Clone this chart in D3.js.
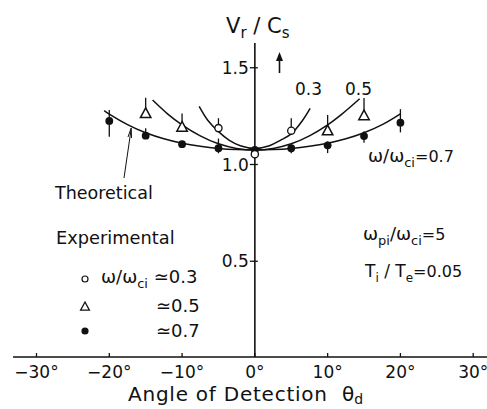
<!DOCTYPE html>
<html>
<head>
<meta charset="utf-8">
<script src="https://cdn.jsdelivr.net/npm/d3@7"></script>
<style>
  html, body { margin: 0; padding: 0; background: #fff; }
  svg text { font-family: "DejaVu Sans", sans-serif; fill: #111; }
</style>
</head>
<body>
<svg id="chart" width="487" height="409"></svg>
<script>
// ---- data ----
const xTicks = [-30, -20, -10, 0, 10, 20, 30];
const xTickLabels = ["\u221230\u00b0", "\u221220\u00b0", "\u221210\u00b0", "0\u00b0", "10\u00b0", "20\u00b0", "30\u00b0"];
const yTicks = [0.5, 1.0, 1.5];
const yTickLabels = ["0.5", "1.0", "1.5"];

// experimental, omega/omega_ci ~ 0.7 (filled circles)
const angles07 = [-20, -15, -10, -5, 0, 5, 10, 15, 20];
const vals07 = [1.225, 1.149, 1.105, 1.084, 1.075, 1.084, 1.099, 1.147, 1.216];
const errUp07 = [0.057, 0.038, 0, 0.05, 0, 0.02, 0.02, 0.025, 0.07];
const errDown07 = [0.081, 0.013, 0, 0.026, 0, 0.026, 0.04, 0.035, 0.05];

// experimental, ~ 0.5 (open triangles)
const angles05 = [-15, -10, 10, 15];
const vals05 = [1.262, 1.192, 1.173, 1.251];
const errUp05 = [0.083, 0.072, 0.083, 0.093];
const errDown05 = [0, 0, 0, 0.02];

// experimental, ~ 0.3 (open circles)
const angles03 = [-5, 0, 5];
const vals03 = [1.188, 1.053, 1.175];
const errUp03 = [0.051, 0, 0.064];

// theoretical curves
const thAngles07 = [-20.7, -20, -17.5, -15, -12.5, -10, -7.5, -5, -2.5, 0, 2.5, 5, 7.5, 10, 12.5, 15, 17.5, 20];
const thVals07 = [1.278, 1.26, 1.206, 1.164, 1.133, 1.11, 1.094, 1.083, 1.077, 1.075, 1.077, 1.083, 1.094, 1.11, 1.133, 1.164, 1.206, 1.262];
const thAngles05 = [-14.05, -12, -10, -7.5, -5, -2.5, 0, 2.5, 5, 7.5, 10, 12, 14.4];
const thVals05 = [1.333, 1.262, 1.205, 1.148, 1.107, 1.083, 1.075, 1.083, 1.107, 1.148, 1.205, 1.262, 1.340];
const thAngles03 = [-7.65, -6.5, -5, -3.5, -2, 0, 2, 3.5, 5, 6.5, 7.6];
const thVals03 = [1.300, 1.230, 1.170, 1.125, 1.097, 1.083, 1.097, 1.125, 1.158, 1.225, 1.290];

// ---- drawing ----
const svg = d3.select("#chart");
const x = d3.scaleLinear().domain([-30, 30]).range([36.5, 473.2]);
const y = d3.scaleLinear().domain([0, 1.5]).range([358, 67.75]);
const ink = "#111";

// x axis line
svg.append("line").attr("x1", 13).attr("x2", 487).attr("y1", y(0) - 1).attr("y2", y(0) - 1)
  .attr("stroke", ink).attr("stroke-width", 1.6);
// x ticks (upward)
svg.append("g").selectAll("line").data(xTicks).join("line")
  .attr("x1", d => x(d)).attr("x2", d => x(d))
  .attr("y1", y(0) - 1).attr("y2", y(0) - 5)
  .attr("stroke", ink).attr("stroke-width", 1.3);
svg.append("g").selectAll("text").data(xTicks).join("text")
  .attr("x", d => x(d)).attr("y", 378)
  .attr("text-anchor", "middle").attr("font-size", 17)
  .text((d, i) => xTickLabels[i]);

// y axis line
svg.append("line").attr("x1", x(0)).attr("x2", x(0)).attr("y1", 43).attr("y2", y(0) - 1)
  .attr("stroke", ink).attr("stroke-width", 1.6);
svg.append("g").selectAll("line").data(yTicks).join("line")
  .attr("x1", x(0) - 5).attr("x2", x(0) + 3)
  .attr("y1", d => y(d)).attr("y2", d => y(d))
  .attr("stroke", ink).attr("stroke-width", 1.3);
svg.append("g").selectAll("text").data(yTicks).join("text")
  .attr("x", x(0) - 6).attr("y", d => y(d) + 6)
  .attr("text-anchor", "end").attr("font-size", 17)
  .text((d, i) => yTickLabels[i]);

// y axis title V_r / C_s
const yt = svg.append("text").attr("x", 226).attr("y", 33).attr("font-size", 21);
yt.append("tspan").text("V");
yt.append("tspan").attr("dy", 5).attr("font-size", 15).text("r");
yt.append("tspan").attr("dy", -5).text(" / C");
yt.append("tspan").attr("dy", 5).attr("font-size", 15).text("s");

// upward arrow
svg.append("line").attr("x1", 279.5).attr("x2", 279.5).attr("y1", 73).attr("y2", 58)
  .attr("stroke", ink).attr("stroke-width", 1.6);
svg.append("path").attr("d", "M279.5,52 L276,61 L283,61 Z").attr("fill", ink);

// x axis title
svg.append("text").attr("x", 128).attr("y", 401).attr("font-size", 20)
  .attr("textLength", 199).attr("lengthAdjust", "spacing").text("Angle of Detection");
const xt = svg.append("text").attr("x", 342).attr("y", 401).attr("font-size", 20);
xt.append("tspan").text("\u03b8");
xt.append("tspan").attr("dy", 3).attr("font-size", 14).text("d");

// theoretical curves
const line = d3.line().x(d => x(d[0])).y(d => y(d[1])).curve(d3.curveCatmullRom.alpha(0.5));
[[thAngles07, thVals07], [thAngles05, thVals05], [thAngles03, thVals03]].forEach(([a, v]) => {
  svg.append("path").datum(a.map((t, i) => [t, v[i]])).attr("d", line)
    .attr("fill", "none").attr("stroke", ink).attr("stroke-width", 1.5);
});

// error bars
function bars(angles, vals, up, down) {
  svg.append("g").selectAll("line").data(angles).join("line")
    .attr("x1", d => x(d)).attr("x2", d => x(d))
    .attr("y1", (d, i) => y(vals[i] + up[i]))
    .attr("y2", (d, i) => y(vals[i] - (down ? down[i] : 0)))
    .attr("stroke", ink).attr("stroke-width", 1.3);
}
bars(angles07, vals07, errUp07, errDown07);
bars(angles05, vals05, errUp05, errDown05);
bars(angles03, vals03, errUp03, null);

// markers
const triPath = (cx, cy, s) => `M${cx},${cy - s * 0.62} L${cx + s * 0.55},${cy + s * 0.4} L${cx - s * 0.55},${cy + s * 0.4} Z`;
svg.append("g").selectAll("circle").data(angles07).join("circle")
  .attr("cx", d => x(d)).attr("cy", (d, i) => y(vals07[i])).attr("r", 3.9).attr("fill", ink);
svg.append("g").selectAll("path").data(angles05).join("path")
  .attr("d", (d, i) => triPath(x(d), y(vals05[i]), 9.5))
  .attr("fill", "#fff").attr("stroke", ink).attr("stroke-width", 1.5);
svg.append("g").selectAll("circle").data(angles03).join("circle")
  .attr("cx", d => x(d)).attr("cy", (d, i) => y(vals03[i])).attr("r", 3.6)
  .attr("fill", "#fff").attr("stroke", ink).attr("stroke-width", 1.3);

// curve labels
svg.append("text").attr("x", 295).attr("y", 95).attr("font-size", 17).text("0.3");
svg.append("text").attr("x", 345).attr("y", 95).attr("font-size", 17).text("0.5");
const c7 = svg.append("text").attr("x", 368).attr("y", 162).attr("font-size", 18);
c7.append("tspan").text("\u03c9/\u03c9");
c7.append("tspan").attr("dy", 5).attr("font-size", 13).text("ci");
c7.append("tspan").attr("dy", -5).attr("font-size", 16).text("=0.7");

// Theoretical label + arrow
svg.append("text").attr("x", 55).attr("y", 199).attr("font-size", 17.5).text("Theoretical");
svg.append("line").attr("x1", 124).attr("y1", 178).attr("x2", 131).attr("y2", 130)
  .attr("stroke", ink).attr("stroke-width", 1);
svg.append("path").attr("d", "M128,137 L131.2,128 L131.5,138").attr("fill", "none").attr("stroke", ink).attr("stroke-width", 1);

// Experimental legend
svg.append("text").attr("x", 56).attr("y", 244).attr("font-size", 17.8).text("Experimental");
svg.append("circle").attr("cx", 85).attr("cy", 279).attr("r", 3).attr("fill", "#fff").attr("stroke", ink).attr("stroke-width", 1.2);
svg.append("path").attr("d", triPath(85, 307, 8)).attr("fill", "#fff").attr("stroke", ink).attr("stroke-width", 1.3);
svg.append("circle").attr("cx", 85).attr("cy", 331).attr("r", 3.6).attr("fill", ink);
const l1 = svg.append("text").attr("x", 101).attr("y", 283).attr("font-size", 18);
l1.append("tspan").text("\u03c9/\u03c9");
l1.append("tspan").attr("dy", 5).attr("font-size", 13).text("ci");
l1.append("tspan").attr("dy", -5).text(" \u22430.3");
svg.append("text").attr("x", 156).attr("y", 312).attr("font-size", 18).text("\u22430.5");
svg.append("text").attr("x", 156).attr("y", 337).attr("font-size", 18).text("\u22430.7");

// parameters
const p1 = svg.append("text").attr("x", 363).attr("y", 240).attr("font-size", 18);
p1.append("tspan").text("\u03c9");
p1.append("tspan").attr("dy", 5).attr("font-size", 13).text("pi");
p1.append("tspan").attr("dy", -5).text("/\u03c9");
p1.append("tspan").attr("dy", 5).attr("font-size", 13).text("ci");
p1.append("tspan").attr("dy", -5).attr("font-size", 16).text("=5");
const p2 = svg.append("text").attr("x", 365).attr("y", 277).attr("font-size", 17);
p2.append("tspan").text("T");
p2.append("tspan").attr("dy", 5).attr("font-size", 12).text("i");
p2.append("tspan").attr("dy", -5).text(" / T");
p2.append("tspan").attr("dy", 5).attr("font-size", 12).text("e");
p2.append("tspan").attr("dy", -5).attr("font-size", 16).text("=0.05");
</script>
</body>
</html>
